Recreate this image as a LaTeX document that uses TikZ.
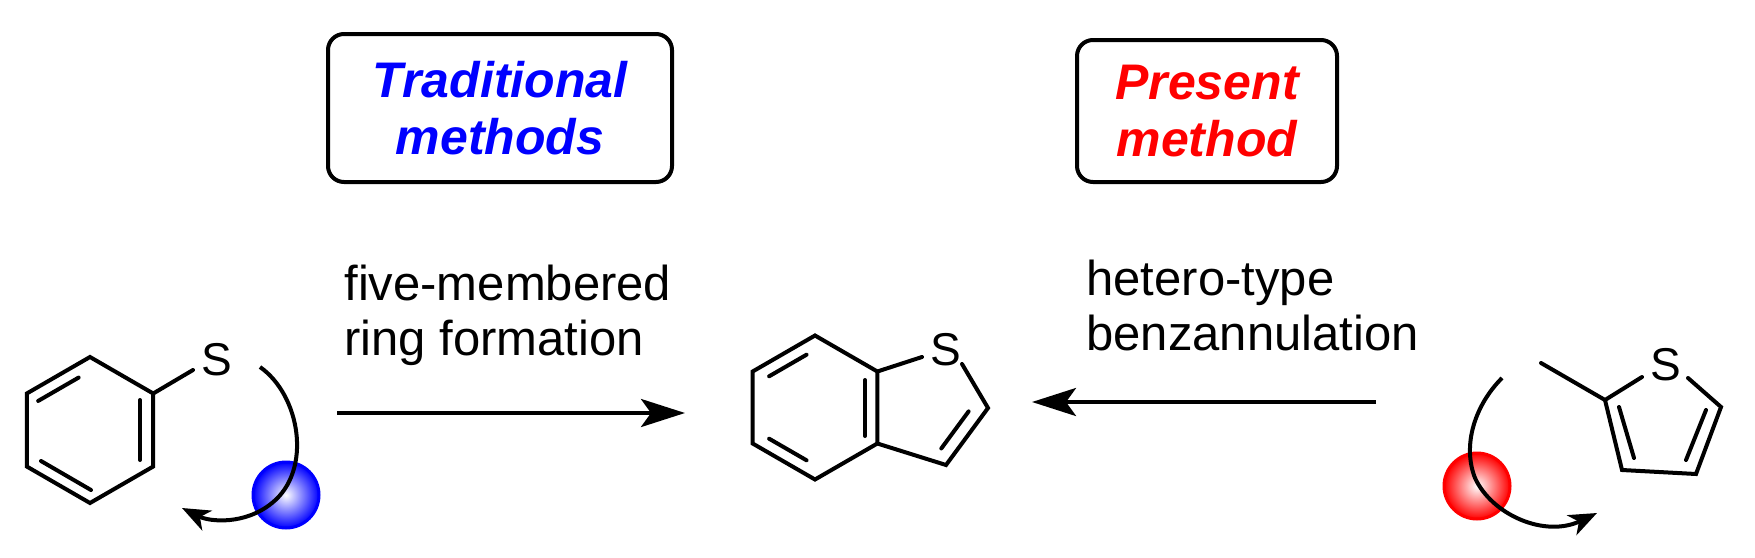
\documentclass[tikz,border=0pt]{standalone}
\usepackage{fontspec}
\setmainfont{Liberation Sans}
\usetikzlibrary{arrows.meta,calc}
\begin{document}
\begin{tikzpicture}[x=0.5pt,y=-0.5pt,
  bond/.style={line width=2pt,line cap=round},
  rxn/.style={line width=2pt,-{Stealth[length=22pt,width=14pt,inset=5pt]}},
  curly/.style={line width=2pt,-{Stealth[length=14pt,width=11pt,inset=4pt]}},
  lab/.style={font=\fontsize{24.5}{27.5}\selectfont,align=left,anchor=base west,inner sep=0pt},
  atom/.style={font=\fontsize{23}{23}\selectfont,inner sep=0pt},
  tbox/.style={draw,line width=2pt,rounded corners=8pt,font=\fontsize{25}{28.5}\selectfont\bfseries\itshape,align=center}]
\useasboundingbox (0,0) rectangle (1755,557);
% boxes
\node[tbox,text=blue,minimum width=172pt,minimum height=74pt] (tb) at (500,108) {Traditional\\methods};
\node[tbox,text=red,minimum width=130pt,minimum height=71pt] (pb) at (1207,111) {Present\\method};
% left molecule
\foreach \n/\a in {a1/90,a2/30,a3/-30,a4/-90,a5/-150,a6/150}
  \coordinate (\n) at ($(90,430)+(\a:73 and -73)$);
\draw[bond] (a1)--(a2)--(a3)--(a4)--(a5)--(a6)--cycle;
\draw[bond] ($(a1)!0.18!(a6)+(0,14)$)--($(a6)!0.18!(a1)+(0,14)$);
\draw[bond] (140,400)--(140,460);
\draw[bond] (41,461)--(91,490);
\node[atom] (s1) at (217,360) {S};
\draw[bond] (a2)--(193,370);
\coordinate (la) at (260,367);
\coordinate (le) at (182,508);
\shade[inner color=white,outer color=blue,draw=blue,line width=1.5pt] (286,495) circle (33);
\draw[curly] (la) .. controls (300,395) and (313,470) .. (272,503) .. controls (245,525) and (210,522) .. (le);
% left arrow
\node[lab] (t1) at (344,355) {five-membered\\ring formation};
\coordinate (r1s) at (337,413);
\coordinate (r1e) at (685,413);
\draw[rxn] (r1s)--(r1e);
% center molecule
\foreach \n/\a in {b1/90,b2/30,b3/-30,b4/-90,b5/-150,b6/150}
  \coordinate (\n) at ($(815,407.5)+(\a:72 and -72)$);
\draw[bond] (b1)--(b2)--(b3)--(b4)--(b5)--(b6)--cycle;
\draw[bond] ($(b1)!0.2!(b6)+(4,12)$)--($(b6)!0.2!(b1)+(4,12)$);
\draw[bond] (865,380)--(865,436);
\draw[bond] ($(b4)!0.2!(b5)+(4,-12)$)--($(b4)!0.8!(b5)+(4,-12)$);
\coordinate (c2) at (988,408);
\coordinate (c3) at (946,465);
\node[atom] (s2) at (946,350) {S};
\draw[bond] (b2)--(922,357);
\draw[bond] (962,364)--(c2)--(c3)--(b3);
\draw[bond] ($(c2)!0.2!(c3)+(-11,-8)$)--($(c2)!0.85!(c3)+(-11,-8)$);
% right arrow
\node[lab] (t2) at (1086,350) {hetero-type\\benzannulation};
\coordinate (r2s) at (1376,402);
\coordinate (r2e) at (1032,402);
\draw[rxn] (r2s)--(r2e);
% right molecule
\coordinate (m) at (1541,363);
\coordinate (d2) at (1605,400);
\coordinate (d3) at (1622,470);
\coordinate (d4) at (1696,474);
\coordinate (d5) at (1721,407);
\node[atom] (s3) at (1666,365) {S};
\draw[bond] (m)--(d2)--(1642,377);
\draw[bond] (1688,378)--(d5)--(d4)--(d3)--(d2);
\draw[bond] (1619,407)--(1634,458);
\draw[bond] (1706,410)--(1686,460);
\shade[inner color=white,outer color=red,draw=red,line width=1.5pt] (1477,486) circle (33);
\draw[curly] (1502,378) .. controls (1475,405) and (1462,445) .. (1475,478) .. controls (1492,515) and (1545,538) .. (1597,513);
\end{tikzpicture}
\end{document}
